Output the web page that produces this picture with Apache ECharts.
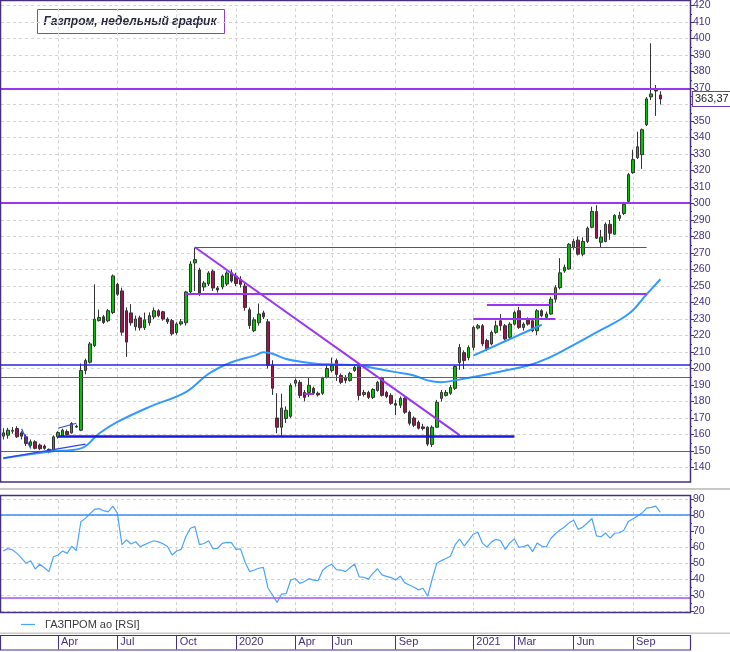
<!DOCTYPE html>
<html>
<head>
<meta charset="utf-8">
<title>Газпром, недельный график</title>
<script src="https://cdn.jsdelivr.net/npm/echarts@6/dist/echarts.min.js"></script>
<style>
  html, body { margin: 0; padding: 0; background: #fff; }
  #chart { width: 730px; height: 652px; }
</style>
</head>
<body>
<div id="chart"></div>
<script>
// weekly candles, week starts (Monday) from 2019-01-14
const firstWeek = Date.UTC(2019, 0, 14);
const candleCount = 145;
const emptyWeeks = 6; // blank space right of the last candle
const weeks = [];
for (let i = 0; i < candleCount + emptyWeeks; i++) {
  weeks.push(new Date(firstWeek + i * 7 * 864e5).toISOString().slice(0, 10));
}

const weekOpen = [
  159, 159.6, 162, 163.6, 161, 158.6, 153.4, 155.6, 153.6, 153,
  151, 150.2, 158.6, 159, 161.8, 161, 164.5, 162.6, 198.8, 203.8,
  213.9, 229, 231.3, 228.9, 233.9, 251, 247, 235, 233.7, 225.3,
  230.7, 224.7, 227.7, 231.3, 235, 234.4, 230, 229, 221.7, 227,
  227.7, 246.4, 264, 259.7, 249.4, 251.2, 259, 248.8, 249.4, 251.2,
  258, 256, 254, 250, 235.6, 222.9, 227.7, 233.7, 228.3, 202,
  170, 164.4, 169.7, 171, 191.1, 191.6, 185.5, 185.5, 188, 185,
  185, 194.6, 198.8, 204.8, 195.8, 194.6, 192.8, 198.8, 201.2, 184.3,
  185.5, 182.5, 186.7, 194, 185.5, 183.7, 178.7, 177.7, 182, 173.5,
  170, 167.4, 164.6, 164.4, 154, 164.4, 181.9, 183.7, 185, 188,
  203.6, 209.6, 206.6, 212.8, 224.5, 225.9, 216.9, 214.9, 221.9, 228.9,
  225.9, 218.9, 226.9, 235, 224.9, 229.9, 228.9, 222.9, 235, 231,
  233, 242, 249, 259.1, 260.3, 273.5, 277.8, 269.3, 277, 285.6,
  295.2, 276.5, 277, 287.4, 281.4, 291, 294, 301.3, 318.7, 327.8,
  329.6, 347.7, 364.6, 369.4, 365.8
];
const weekClose = [
  161, 162.6, 162.5, 158.6, 159, 154.6, 155.6, 151.6, 151.4, 151.6,
  149.4, 158.6, 161.2, 162.6, 160, 166.7, 165, 198.8, 204.8, 214.9,
  229.9, 230.9, 227.9, 235, 256.1, 245, 222, 216, 227.7, 230,
  224.7, 229.5, 232, 235, 232, 230, 228.3, 221, 227, 228.3,
  246.4, 263.3, 266, 245.8, 251.8, 257.9, 248.8, 247.6, 256, 257.9,
  253, 251.5, 251, 237, 226, 229.5, 233, 231.3, 201.8, 188,
  164.4, 176, 174.7, 189.8, 192.8, 183.7, 182.5, 189.8, 185, 184,
  194, 200, 201.8, 196.4, 191.6, 192.8, 197, 200.6, 183.7, 185.5,
  182.5, 187.3, 191.6, 183.7, 183.1, 178.9, 177.8, 181.9, 173.5, 166.8,
  165.6, 163.8, 163.6, 154.2, 164.4, 179.5, 185.5, 185.5, 188.5, 201.2,
  212.7, 204.8, 212.7, 224.9, 225.9, 214.9, 211.9, 221.9, 225.9, 225.9,
  217.9, 226.9, 233.9, 224.9, 226.9, 226.9, 222.9, 235, 232, 233,
  242, 249, 258, 261.3, 275.3, 277, 269.3, 277, 285, 295.2,
  279, 279.6, 287.4, 282, 292.8, 292.8, 299.5, 317.5, 326.6, 334.4,
  344.7, 363.4, 366.4, 368.2, 363.37
];
const weekLow = [
  157, 157.5, 160.5, 158, 157, 153, 152.5, 151, 150.5, 150.8,
  148.6, 149.5, 157.5, 158.5, 159.5, 160.5, 164, 162, 196.5, 203,
  213, 228.5, 227, 228, 233, 244, 220, 207, 226, 223,
  223, 223.3, 226, 230, 231, 229, 227, 220, 220.5, 226,
  226, 245, 247, 244, 247, 250, 247, 246, 248, 250,
  252, 250, 249, 235, 224, 222, 226, 230, 200, 184,
  160.8, 159, 167, 170, 189, 182, 180, 182.7, 184, 183,
  184, 194, 197.6, 192.5, 190.5, 191, 192, 198, 180.7, 183,
  181.5, 181.5, 186, 183, 182, 178, 171.7, 176, 172.5, 165.5,
  164.5, 163, 162.5, 153, 152.4, 164, 180, 183, 184, 187,
  199.2, 199.6, 205, 211, 223.7, 213.5, 210.5, 214, 221, 222.9,
  217, 218, 226, 224, 223, 226, 222, 220.3, 231, 230,
  232.5, 240, 248, 258, 260, 272, 268.5, 268, 276, 285,
  278.5, 273, 276.5, 278, 281, 289.5, 293, 300.5, 318, 327,
  321, 347, 362.7, 353.1, 360
];
const weekHigh = [
  163.8, 164, 164.5, 165, 162, 160, 157, 156.5, 154.5, 154,
  151.5, 159.5, 162, 163.5, 163, 167.5, 166, 203, 206, 216,
  251, 235.7, 232.5, 236, 257, 252, 249, 237, 239, 232,
  232, 233.9, 234, 237, 236, 235, 231, 230, 228, 230,
  247, 265, 273.3, 261, 253, 259, 260, 250, 257, 259,
  260, 258, 256, 252, 237, 231, 239.4, 235, 230, 205,
  185, 184.7, 177, 191, 194, 193, 187, 194.8, 189, 186,
  195, 202, 206.6, 206, 197, 196, 198, 202, 203, 187,
  186.5, 188, 192.5, 195, 186.5, 185, 181, 183, 183, 174.5,
  171, 168.5, 166.5, 165, 165.5, 181, 187, 187, 190, 202,
  214.9, 211, 214, 226, 227, 227, 218, 223, 229, 233,
  227, 228, 235, 237.4, 228, 231, 230, 236, 236, 234.5,
  243.5, 250.5, 266.9, 263, 276, 278.5, 280, 279.5, 286, 298,
  299, 284, 288.5, 290, 293.5, 295, 301, 318.5, 332.6, 343.5,
  345.5, 364.5, 397.1, 371.8, 368
];

// moving average: [week index, value]
const maPoints = [
  [0, 145.6], [10, 149.6], [17, 151.6], [21, 160.6], [25, 167.6], [32, 176.7],
  [40, 185.7], [45, 196.8], [50, 203.8], [55, 207.8], [57, 209.8], [59, 208.9],
  [62, 205.8], [66, 203.8], [69, 202.8], [73, 202.4], [78, 201.8], [82, 199.8],
  [86, 197.8], [90, 195.8], [93, 192.8], [96, 191.7], [99, 192.8], [103, 194.8],
  [110, 198.8], [115, 201.8], [119, 205.8], [124, 212.8], [130, 221.9],
  [137, 233], [141, 245], [144, 254.1]
];

const rsiValues = [
  57.5, 59, 58.3, 56, 53, 49.8, 51.4, 46.2, 49.2, 47,
  44.6, 53.9, 55, 57.5, 56, 60.5, 57.7, 75.8, 77.9, 80.8,
  83.5, 84, 82.7, 82, 85.5, 81.2, 61.5, 64.5, 61.9, 63.3,
  60.2, 61.5, 62.8, 63.9, 63.2, 62, 60.3, 55, 57.5, 58.5,
  66.4, 71.7, 72.7, 61.5, 62.2, 63.9, 58.8, 59.3, 62.3, 62.9,
  62.7, 58.5, 58.8, 50.5, 44.6, 45.6, 46.7, 47.3, 34.5, 30,
  25.4, 30.6, 30.8, 39.4, 40.2, 37.3, 38.4, 40.2, 39.3, 38.9,
  45.5, 47.8, 49.2, 45.9, 45.6, 44.6, 47, 49.4, 41.3, 41.1,
  39.9, 43.5, 46.4, 42.6, 41.6, 40.9, 39.4, 41.8, 37.6, 36.2,
  34.8, 33.2, 34.2, 29.2, 40, 49.9, 51.5, 52.8, 54.2, 61.3,
  65, 60.6, 64.1, 68, 69.2, 62.4, 59.9, 63.2, 64.8, 63.9,
  58.5, 62.6, 65, 59.8, 60.2, 61.3, 57.1, 62.5, 60.6, 60,
  65.3, 68.3, 70.6, 72.5, 75.1, 76.7, 71, 72.5, 75, 77.8,
  67, 66.4, 68.7, 65.6, 68.6, 68.9, 70.5, 76, 77.6, 79.3,
  81.2, 84.3, 84.8, 85.5, 81.7
];

// month marks of the time axis
const monthMarks = [
  ['2019-04-08', 'Apr'], ['2019-07-08', 'Jul'], ['2019-10-07', 'Oct'],
  ['2020-01-06', '2020'], ['2020-04-06', 'Apr'], ['2020-06-01', 'Jun'],
  ['2020-09-07', 'Sep'], ['2021-01-04', '2021'], ['2021-03-08', 'Mar'],
  ['2021-06-07', 'Jun'], ['2021-09-06', 'Sep']
];

// drawn levels (price) and trend segments [week from, value, week to, value]
const violetLevels = [369.5, 300.5];
const blueLevels = [202.3];
const thinBlueLevels = [194.6, 150];
const violetSegments = [
  [42, 273.5, 100, 159.6], [40, 245.2, 141, 245.2],
  [106, 238.5, 120, 238.5], [103, 230, 121, 230], [66, 184.7, 68, 184.7]
];
const thinVioletSegments = [[42, 273.5, 141, 273.5]];
const boldBlueSegments = [[12, 159, 112, 159]];
const lightBlueSegments = [[103, 207.8, 118, 226.5]];
const thinBlueSegments = [[0, 145.7, 18, 154.2], [12, 163.8, 16, 166.8], [4, 163.5, 6, 151.5]];
const rsiHigh = 80;
const rsiLow = 28;

const axisColor = '#45307e';
const font = '"Liberation Sans", Arial, sans-serif';
const violet = '#9b35f0';
const blue = '#2424e8';

const markIdx = new Set(monthMarks.map(m => weeks.indexOf(m[0])));
const markLabel = Object.fromEntries(monthMarks);
const lastClose = weekClose[weekClose.length - 1];

const maData = weeks.map(() => null);
maPoints.forEach(([i, v]) => { maData[i] = v; });

function segs(list, style) {
  return list.map(([i0, v0, i1, v1]) => [
    { coord: [weeks[i0], v0], lineStyle: style },
    { coord: [weeks[i1], v1] }
  ]);
}
function levels(list, style) {
  return list.map(v => ({ yAxis: v, lineStyle: style }));
}

const vGrid = monthMarks.map(m => ({ xAxis: m[0] }));
const gridLineStyle = { color: '#d2d2d2', type: [3, 3], width: 1 };

const chart = echarts.init(document.getElementById('chart'));
chart.setOption({
  animation: false,
  backgroundColor: '#fff',
  textStyle: { fontFamily: font },
  legend: {
    left: 21, top: 619, padding: 0, itemWidth: 14, itemHeight: 12, itemGap: 10,
    icon: 'path://M0,5.4 L14,5.4 L14,6.6 L0,6.6 Z',
    textStyle: { color: '#3a3a3a', fontSize: 11, padding: [0, 0, 0, 5] },
    data: ['ГАЗПРОМ ао [RSI]']
  },
  grid: [
    { left: 1, right: 40, top: 3, height: 464.5 },
    { left: 1, right: 40, top: 499, height: 112 }
  ],
  xAxis: [
    { type: 'category', gridIndex: 0, data: weeks, boundaryGap: true, show: false },
    {
      type: 'category', gridIndex: 1, data: weeks, boundaryGap: true, offset: 24.5,
      axisLine: { show: false },
      axisTick: {
        show: true, alignWithLabel: true, length: 14,
        interval: i => markIdx.has(i), lineStyle: { color: axisColor }
      },
      axisLabel: {
        interval: i => markIdx.has(i), formatter: v => markLabel[v] || '',
        align: 'left', padding: [0, 0, 0, 3], margin: 1,
        color: axisColor, fontSize: 11, fontFamily: font
      },
      splitLine: { show: false }
    }
  ],
  yAxis: [
    {
      type: 'value', gridIndex: 0, position: 'right', min: 140, max: 420, interval: 10,
      axisLine: { show: true, lineStyle: { color: axisColor } },
      axisTick: { show: true, length: 4, lineStyle: { color: axisColor } },
      minorTick: { show: true, splitNumber: 2, length: 2, lineStyle: { color: axisColor } },
      axisLabel: { margin: 3, color: axisColor, fontSize: 10.5, fontFamily: font },
      splitLine: { show: true, lineStyle: gridLineStyle }
    },
    {
      type: 'value', gridIndex: 1, position: 'right', min: 20, max: 90, interval: 10,
      axisLine: { show: true, lineStyle: { color: axisColor } },
      axisTick: { show: true, length: 4, lineStyle: { color: axisColor } },
      minorTick: { show: true, splitNumber: 2, length: 2, lineStyle: { color: axisColor } },
      axisLabel: { margin: 3, color: axisColor, fontSize: 10.5, fontFamily: font },
      splitLine: { show: true, lineStyle: gridLineStyle }
    }
  ],
  series: [
    {
      type: 'line', xAxisIndex: 0, yAxisIndex: 0, data: [], silent: true, z: 1,
      markLine: {
        z: 1, symbol: ['none', 'none'], silent: true, animation: false,
        label: { show: false }, lineStyle: gridLineStyle, data: vGrid
      }
    },
    {
      type: 'line', xAxisIndex: 1, yAxisIndex: 1, data: [], silent: true, z: 1,
      markLine: {
        z: 1, symbol: ['none', 'none'], silent: true, animation: false,
        label: { show: false }, lineStyle: gridLineStyle, data: vGrid
      }
    },
    {
      type: 'candlestick', name: 'Газпром', xAxisIndex: 0, yAxisIndex: 0,
      data: weekOpen.map((o, i) => [o, weekClose[i], weekLow[i], weekHigh[i]]),
      barWidth: 3,
      itemStyle: {
        color: '#00c400', color0: '#a3124e',
        borderColor: '#333', borderColor0: '#333', borderWidth: 1
      },
      markLine: {
        symbol: ['none', 'none'], silent: true, animation: false,
        label: { show: false },
        data: [
          ...levels(violetLevels, { color: violet, width: 2, type: 'solid' }),
          ...levels(blueLevels, { color: blue, width: 1.5, type: 'solid' }),
          ...levels(thinBlueLevels, { color: '#4a55ee', width: 1.2, type: 'solid' }),
          ...segs(violetSegments, { color: violet, width: 2, type: 'solid' }),
          ...segs(thinVioletSegments, { color: '#7a2ed6', width: 1, type: 'solid' }),
          ...segs(boldBlueSegments, { color: '#1818e0', width: 2.5, type: 'solid' }),
          ...segs(lightBlueSegments, { color: '#2f95ff', width: 2, type: 'solid' }),
          ...segs(thinBlueSegments, { color: '#3344e6', width: 1.2, type: 'solid' })
        ]
      }
    },
    {
      type: 'line', name: 'MA', xAxisIndex: 0, yAxisIndex: 0, data: maData,
      connectNulls: true, smooth: 0.4, symbol: 'none', z: 3,
      lineStyle: { color: '#3399ff', width: 2 },
      markLine: {
        symbol: ['none', 'none'], silent: true, animation: false,
        data: [{
          yAxis: lastClose, lineStyle: { color: 'rgba(0,0,0,0)', width: 1 },
          label: {
            show: true, position: 'end', distance: 3,
            formatter: String(lastClose).replace('.', ','),
            color: '#222', fontSize: 11, fontFamily: font,
            backgroundColor: '#fff', borderColor: '#6a3fb0', borderWidth: 1,
            padding: [2, 2, 1, 2]
          }
        }]
      }
    },
    {
      type: 'line', name: 'ГАЗПРОМ ао [RSI]', xAxisIndex: 1, yAxisIndex: 1, data: rsiValues,
      symbol: 'none', itemStyle: { color: '#4aa4ff' },
      lineStyle: { color: '#4aa4ff', width: 1.2 },
      markLine: {
        symbol: ['none', 'none'], silent: true, animation: false,
        label: { show: false },
        data: [
          { yAxis: rsiHigh, lineStyle: { color: '#3a8ef0', width: 1.5, type: 'solid' } },
          { yAxis: rsiLow, lineStyle: { color: '#a555f0', width: 1.5, type: 'solid' } }
        ]
      }
    }
  ],
  graphic: [
    { type: 'rect', z: 100, shape: { x: 0.5, y: 0.5, width: 690, height: 481.5 },
      style: { fill: 'none', stroke: axisColor, lineWidth: 1.5 } },
    { type: 'rect', z: 100, shape: { x: 0, y: 488, width: 730, height: 2 },
      style: { fill: '#c8c8c8' } },
    { type: 'rect', z: 100, shape: { x: 0.5, y: 495.5, width: 690, height: 117 },
      style: { fill: 'none', stroke: axisColor, lineWidth: 1.5 } },
    { type: 'rect', z: 100, shape: { x: 0, y: 632.5, width: 730, height: 1.5 },
      style: { fill: '#c8c8c8' } },
    { type: 'rect', z: 100, shape: { x: 0.5, y: 635.5, width: 690, height: 14.5 },
      style: { fill: 'none', stroke: axisColor, lineWidth: 1.2 } },
    {
      type: 'group', left: 37, top: 9, z: 100,
      children: [
        { type: 'rect', shape: { x: 0, y: 0, width: 187, height: 24 },
          style: { fill: '#fff', stroke: '#8a3fd0', lineWidth: 1 } },
        { type: 'text', x: 6, y: 12,
          style: { text: 'Газпром, недельный график', fill: '#26263e',
                   font: 'italic bold 12px "Liberation Sans", Arial, sans-serif',
                   verticalAlign: 'middle' } }
      ]
    }
  ]
});
</script>
</body>
</html>
